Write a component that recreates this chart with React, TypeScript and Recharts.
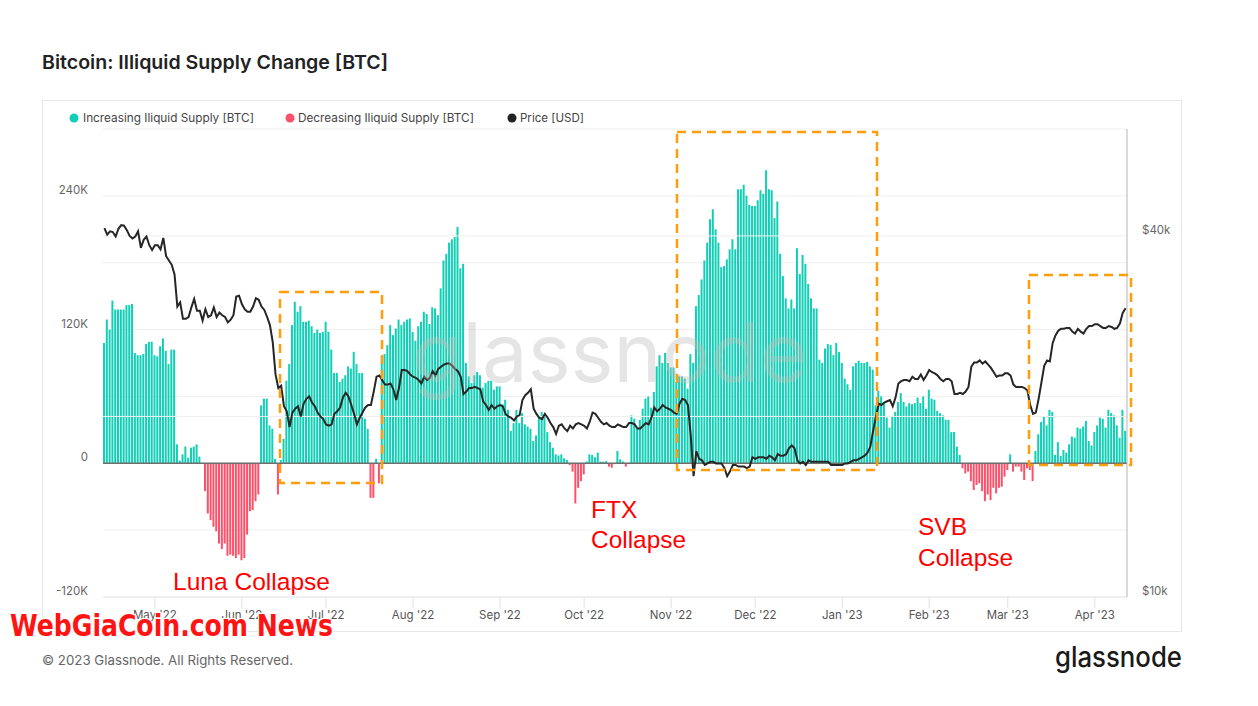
import React from 'react';
import { ComposedChart, Bar, Line, XAxis, YAxis, CartesianGrid, ReferenceLine, Cell } from 'recharts';

// first day of the daily series
const START_DATE = '2022-04-13';

// Illiquid supply change, thousands of BTC (one value per day)
const SUPPLY_K = [
  108,129,120,146,138,138,138,138,142,142,
  143,99,97,97,98,107,109,109,97,96,
  105,112,101,89,102,102,17,2.4,8,15,
  5,14,15,17,6,0,-25,-45,-51,-57,
  -61,-72,-77,-72,-83,-82,-83,-85,-82,-87,
  -85,-64,-43,-42,-34,-28,52,58,58,34,
  31,4,-28,3,22,74,89,124,145,136,
  141,127,127,128,123,117,120,117,118,127,
  118,102,81,81,73,76,79,87,85,100,
  89,81,81,40,31,-31,-31,4,-18,94,
  98,106,124,115,121,129,124,127,129,130,
  118,110,123,127,136,134,125,140,139,133,
  157,182,188,198,201,203,212,175,179,90,
  78,72,79,82,79,68,72,74,74,66,
  69,69,53,57,48,29,36,48,36,45,
  35,33,31,20,25,42,46,43,28,19,
  14,8,7,8,4.5,3,-1.5,-7.5,-36,-22,
  -16,-10,1.5,8,7.5,5.4,9.6,1.5,1.5,2,
  -3,-4,0,11,3.6,1.5,-3,0,43,40,
  31,39,49,58,60,50,64,87,97,90,
  99,90,86,86,73,78,78,76,67,98,
  90,141,151,165,182,198,219,228,210,198,
  176,177,183,192,201,192,246,246,250,240,
  232,231,231,236,245,242,263,246,245,220,
  235,188,168,148,139,147,139,193,170,187,
  179,161,148,139,139,93,90,103,107,106,
  97,108,100,90,76,71,66,87,90,92,
  90,90,91,87,84,52,65,60,55,41,
  32,42,46,55,63,55,51,54,53,54,
  59,54,60,49,66,58,57,47,45,43,
  39,39,28,28,15,7.5,-4.5,-9,-7.5,-16,
  -24,-19.5,-18,-25,-34,-28,-33,-22,-27,-22,
  -21,-12,-6,8,-7.5,-3,-3,-7.5,-15,-4.5,
  -6,-16,11,26,37,42,34,48,46,7.5,
  19,6.6,12,9.6,17,24,23,32,31,33,
  38,20,16,28,34,41,40,32,48,45,
  43,34,23,48,29,
];

// BTC price, thousands of USD (one value per day)
const PRICE_K = [
  41.2,40.2,40.7,40.6,39.9,41.1,41.7,41.6,40.9,40.0,
  39.6,39.9,40.7,38.2,39.4,39.9,38.6,37.9,38.6,38.6,
  38.0,39.7,37.0,36.4,35.8,34.5,30.5,31.0,29.1,29.1,
  29.3,30.4,31.4,30.0,30.0,28.9,30.2,29.3,29.5,30.4,
  29.3,29.8,29.5,29.3,28.7,29.0,29.5,31.7,31.8,30.8,
  30.2,29.9,29.9,30.5,31.5,31.3,30.5,30.1,29.3,28.4,
  26.6,23.5,22.3,22.5,20.8,20.4,19.2,20.3,20.6,20.8,
  20.0,21.0,21.4,21.6,21.1,20.8,20.3,20.0,19.8,19.4,
  19.3,19.4,20.2,20.4,20.7,21.5,21.9,21.6,20.9,20.2,
  19.4,19.9,20.3,20.7,20.9,20.9,22.0,23.3,23.4,23.0,
  22.6,22.6,22.7,22.2,21.3,22.3,23.9,23.9,23.8,23.5,
  23.3,23.2,23.0,22.7,23.3,23.0,23.2,23.8,23.4,24.0,
  24.2,24.4,24.5,24.5,24.3,24.0,23.8,23.3,21.8,22.0,
  22.3,22.3,22.4,22.3,22.2,21.2,20.9,20.5,20.9,20.6,
  20.8,20.9,20.8,20.2,20.0,19.9,19.7,20.0,20.1,21.3,
  21.7,21.9,22.2,20.6,20.2,19.9,19.8,20.2,19.9,19.5,
  19.2,18.7,19.3,19.4,19.1,18.9,19.3,19.1,19.4,19.5,
  19.4,19.3,19.1,19.6,20.3,20.2,19.9,19.6,19.4,19.5,
  19.3,19.2,19.2,19.4,19.3,19.2,19.2,19.5,19.5,19.4,
  19.1,19.1,19.3,19.5,19.4,19.9,20.7,20.4,20.6,20.9,
  20.7,20.6,20.5,20.3,20.2,21.0,21.4,21.3,20.9,18.6,
  15.9,17.5,17.0,16.9,16.6,16.7,16.8,16.8,16.7,16.7,
  16.7,16.4,15.9,16.2,16.6,16.6,16.5,16.5,16.5,16.4,
  16.5,17.1,17.0,17.1,17.1,17.1,17.0,17.2,17.1,16.9,
  17.3,17.2,17.2,17.3,17.7,17.9,17.7,16.9,16.7,16.8,
  16.6,16.9,16.8,16.8,16.8,16.8,16.8,16.8,16.8,16.6,
  16.6,16.6,16.6,16.6,16.7,16.7,16.8,16.9,16.9,17.0,
  17.1,17.2,17.4,17.8,18.9,20.0,21.0,20.9,21.1,21.2,
  21.3,20.8,21.5,22.7,22.9,23.0,23.0,22.9,23.3,23.1,
  23.1,23.5,23.0,23.4,23.9,23.7,23.6,23.4,23.1,22.9,
  23.1,23.1,22.9,21.8,21.8,21.9,21.8,22.0,22.4,24.2,
  24.6,24.6,24.8,24.5,24.7,24.4,24.1,23.7,23.3,23.4,
  23.4,23.6,23.6,23.4,22.6,22.4,22.4,22.4,22.3,22.1,
  20.9,20.2,20.3,21.4,22.8,24.3,24.8,24.7,26.5,27.3,
  27.8,28.0,28.0,28.1,28.1,27.7,27.5,28.0,27.7,27.5,
  28.0,28.3,28.3,28.5,28.5,28.3,28.1,28.1,28.3,28.2,
  28.0,28.1,28.6,29.8,30.3,
];

const MONTH_TICKS = [
  '2022-05-01','2022-06-01','2022-07-01','2022-08-01','2022-09-01','2022-10-01',
  '2022-11-01','2022-12-01','2023-01-01','2023-02-01','2023-03-01','2023-04-01',
];
const MONTH_LABELS = [
  "May '22","Jun '22","Jul '22","Aug '22","Sep '22","Oct '22",
  "Nov '22","Dec '22","Jan '23","Feb '23","Mar '23","Apr '23",
];

const LEFT_TICKS = [-120, -60, 0, 60, 120, 180, 240, 300];
const LEFT_LABELS: Record<string, string> = { '240': '240K', '120': '120K', '0': '0', '-120': '-120K' };
const RIGHT_TICKS = [10, 40];
const RIGHT_LABELS: Record<string, string> = { '10': '$10k', '40': '$40k' };
const RIGHT_GRID = [20, 40];

const TEAL = '#10cfb5';
const RED = '#ff5069';
const FONT = 'Inter, "Noto Sans", sans-serif';

function buildDates(n: number): string[] {
  const out: string[] = [];
  const d0 = new Date(START_DATE + 'T00:00:00Z').getTime();
  for (let i = 0; i < n; i++) {
    out.push(new Date(d0 + i * 86400000).toISOString().slice(0, 10));
  }
  return out;
}

const DATES = buildDates(SUPPLY_K.length);
const data = SUPPLY_K.map((v, i) => ({ date: DATES[i], supply: v, price: PRICE_K[i] }));

const LeftTick = (props: any) => {
  const { y, payload } = props;
  const label = LEFT_LABELS[String(payload.value)];
  if (!label) return <g />;
  return (
    <text x={88} y={y - 6} textAnchor="end" dominantBaseline="central" fontSize={11.5} fill="#666" fontFamily={FONT}>
      {label}
    </text>
  );
};

const RightTick = (props: any) => {
  const { y, payload } = props;
  const label = RIGHT_LABELS[String(payload.value)];
  if (!label) return <g />;
  return (
    <text x={1142} y={y - 6} textAnchor="start" dominantBaseline="central" fontSize={11.5} fill="#666" fontFamily={FONT}>
      {label}
    </text>
  );
};

const BottomTick = (props: any) => {
  const { x, payload } = props;
  const idx = MONTH_TICKS.indexOf(payload.value);
  return (
    <text x={x} y={615} textAnchor="middle" dominantBaseline="central" fontSize={11.5} fill="#555" fontFamily={FONT}>
      {idx >= 0 ? MONTH_LABELS[idx] : ''}
    </text>
  );
};

export default function App() {
  return (
    <div style={{ position: 'absolute', left: 0, top: 0, width: 1258, height: 706, background: '#fff', overflow: 'hidden' }}>
      <ComposedChart
        width={1258}
        height={706}
        data={data}
        margin={{ top: 129, right: 76, bottom: 79, left: 43 }}
        barCategoryGap={0}
        barGap={0}
      >
        <CartesianGrid yAxisId="left" vertical={false} stroke="#efefef" />
        <XAxis
          dataKey="date"
          ticks={MONTH_TICKS}
          interval={0}
          height={30}
          tick={<BottomTick />}
          tickLine={{ stroke: '#e2e2e2' }}
          tickSize={11}
          axisLine={{ stroke: '#e6e6e6' }}
        />
        <YAxis
          yAxisId="left"
          orientation="left"
          width={60}
          domain={[-120, 300]}
          ticks={LEFT_TICKS}
          allowDataOverflow
          tick={<LeftTick />}
          tickLine={false}
          axisLine={false}
          interval={0}
        />
        <YAxis
          yAxisId="right"
          orientation="right"
          width={55}
          scale="log"
          domain={[10, 60.3]}
          ticks={RIGHT_TICKS}
          allowDataOverflow
          tick={<RightTick />}
          tickLine={false}
          axisLine={{ stroke: '#b5b5b5' }}
          interval={0}
        />
        {RIGHT_GRID.map((g) => (
          <ReferenceLine key={g} yAxisId="right" y={g} stroke="#efefef" />
        ))}
        <Bar yAxisId="left" dataKey="supply" barSize={2} isAnimationActive={false}>
          {data.map((d, i) => (
            <Cell key={i} fill={d.supply >= 0 ? TEAL : RED} />
          ))}
        </Bar>
        <ReferenceLine yAxisId="left" y={0} stroke="#6e6e6e" strokeWidth={1.5} />
        <Line
          yAxisId="right"
          dataKey="price"
          type="linear"
          stroke="#262626"
          strokeWidth={2}
          dot={false}
          isAnimationActive={false}
        />
      </ComposedChart>

      <svg width={1258} height={706} style={{ position: 'absolute', left: 0, top: 0, pointerEvents: 'none' }}>
        {/* card */}
        <rect x={42.5} y={100.5} width={1139} height={531} fill="none" stroke="#e6e6e6" />
        {/* title */}
        <text x={42} y={69} fontSize={19} fontWeight={600} fill="#222" fontFamily={FONT} textLength={346} lengthAdjust="spacingAndGlyphs">
          Bitcoin: Illiquid Supply Change [BTC]
        </text>
        {/* legend */}
        <circle cx={74} cy={118} r={4.5} fill={TEAL} />
        <text x={83} y={122} fontSize={11.5} fill="#444" fontFamily={FONT} textLength={171} lengthAdjust="spacingAndGlyphs">
          Increasing Iliquid Supply [BTC]
        </text>
        <circle cx={290} cy={118} r={4.5} fill={RED} />
        <text x={298} y={122} fontSize={11.5} fill="#444" fontFamily={FONT} textLength={176} lengthAdjust="spacingAndGlyphs">
          Decreasing Iliquid Supply [BTC]
        </text>
        <circle cx={512} cy={118} r={4.5} fill="#222" />
        <text x={520} y={122} fontSize={11.5} fill="#444" fontFamily={FONT} textLength={64} lengthAdjust="spacingAndGlyphs">
          Price [USD]
        </text>
        {/* watermark */}
        <text x={610} y={382} fontSize={82} textAnchor="middle" fill="#bdbdbd" opacity={0.38} fontFamily={FONT} textLength={395} lengthAdjust="spacingAndGlyphs">
          glassnode
        </text>
        {/* annotation boxes */}
        <rect x={280} y={292} width={102} height={191} fill="none" stroke="#ff9d0a" strokeWidth={2.5} strokeDasharray="9 6" />
        <rect x={677} y={132} width={200} height={338} fill="none" stroke="#ff9d0a" strokeWidth={2.5} strokeDasharray="9 6" />
        <rect x={1029} y={275} width={102} height={190} fill="none" stroke="#ff9d0a" strokeWidth={2.5} strokeDasharray="9 6" />
        {/* annotation texts */}
        <g fontFamily='"Liberation Sans", Arial, sans-serif' fontSize={24.5} fill="#ff0000">
          <text x={173} y={590} textLength={157} lengthAdjust="spacingAndGlyphs">Luna Collapse</text>
          <text x={591} y={518}>FTX</text>
          <text x={591} y={548} textLength={95} lengthAdjust="spacingAndGlyphs">Collapse</text>
          <text x={918} y={535}>SVB</text>
          <text x={918} y={566} textLength={95} lengthAdjust="spacingAndGlyphs">Collapse</text>
        </g>
        {/* footer */}
        <text x={42} y={665} fontSize={13} fill="#666" fontFamily={FONT} textLength={251} lengthAdjust="spacingAndGlyphs">
          © 2023 Glassnode. All Rights Reserved.
        </text>
        <text x={1182} y={667} fontSize={28} textAnchor="end" fill="#1a1a1a" fontFamily={FONT} fontWeight={500} textLength={127} lengthAdjust="spacingAndGlyphs">
          glassnode
        </text>
        {/* site watermark */}
        <text
          x={10}
          y={636}
          fontSize={31}
          fontWeight={700}
          fill="#ff1414"
          stroke="#ffffff"
          strokeWidth={2.5}
          paintOrder="stroke"
          fontFamily='"DejaVu Sans Condensed", "DejaVu Sans", sans-serif'
          textLength={323}
          lengthAdjust="spacingAndGlyphs"
        >
          WebGiaCoin.com News
        </text>
      </svg>
    </div>
  );
}
